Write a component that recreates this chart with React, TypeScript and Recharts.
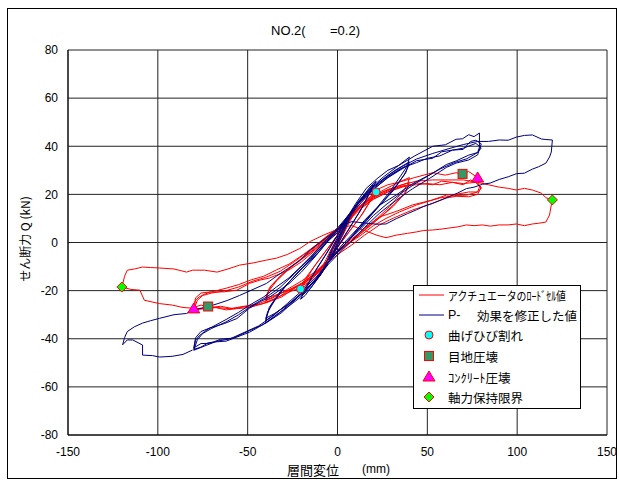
import React from 'react';
import { ComposedChart, Line, Scatter, XAxis, YAxis, CartesianGrid } from 'recharts';

const xTicks = [-150, -100, -50, 0, 50, 100, 150];
const yTicks = [-80, -60, -40, -20, 0, 20, 40, 60, 80];

// アクチュエータのロードセル値 (displacement mm, shear kN)
const loadCell: [number, number][] = [
  [0, 0], [2, 3], [5, 7], [3, 4], [0, 0], [-2, -3], [-5, -6], [-3, -3], [0, 1],
  [4, 6], [8, 11], [10, 13], [7, 9], [3, 3], [0, -1], [-4, -6], [-8, -10], [-10, -12], [-7, -8], [-3, -2], [0, 2],
  [4, 6], [9, 12], [14, 16], [18, 19], [21.5, 21], [19, 18], [14, 12], [8, 6], [3, 1], [0, -2],
  [-4, -6], [-9, -11], [-14, -15], [-18, -18], [-20.6, -19.3], [-18, -16], [-13, -10], [-7, -4], [-2, 1], [0, 3],
  [5, 8], [10, 13], [15, 17], [20, 20], [18, 17], [13, 11], [7, 5], [2, 0], [0, -2],
  [-5, -7], [-10, -12], [-15, -15], [-20, -18], [-18, -15], [-12, -9], [-6, -3], [-1, 2], [0, 3],
  [5, 9], [10, 14], [16, 19], [22, 22], [28, 24], [34, 25], [40, 27], [39, 24], [35, 20], [29, 15], [22, 10], [14, 5], [7, 1], [2, -2],
  [-4, -6], [-9, -11], [-15, -16], [-22, -19], [-28, -21], [-34, -23], [-40, -25], [-39, -21], [-34, -16], [-27, -11], [-19, -6], [-11, -1], [-4, 3], [0, 5],
  [6, 10], [12, 15], [18, 18], [25, 21], [32, 23], [40, 25], [38, 21], [33, 17], [26, 12], [18, 7], [10, 2], [3, -2],
  [-5, -7], [-11, -12], [-17, -16], [-24, -19], [-31, -21], [-40, -24], [-38, -19], [-32, -14], [-24, -9], [-15, -4], [-7, 1], [0, 4],
  [6, 9], [13, 14], [20, 18], [28, 21], [35, 23], [40, 24], [37, 20], [31, 15], [23, 10], [15, 5], [7, 0], [1, -3],
  [-6, -8], [-13, -13], [-20, -17], [-28, -20], [-35, -22], [-40, -23], [-37, -18], [-29, -12], [-20, -7], [-11, -2], [-3, 3], [2, 6],
  // +80 (1)
  [7, 10], [13, 15], [19, 19], [26, 22], [34, 25], [43, 27], [53, 29], [60, 28], [66, 29], [69.6, 28.5], [73, 29.5], [76, 28], [78, 26.8],
  [79, 23], [78, 21], [72, 19.7], [65, 19.5], [57, 18.5], [50, 17], [44, 15.6], [34.5, 12.7], [27, 10], [20, 7], [13, 3], [7, 0], [2, -3],
  // -80 (1)
  [-5, -7], [-11, -12], [-18, -16], [-25, -19.5], [-31, -22.6], [-39.5, -25], [-49, -27], [-56, -27.5], [-62, -28], [-68, -27], [-72, -26.6], [-76, -27.5], [-80, -27.6],
  [-79, -24], [-77, -22.6], [-74, -21.5], [-71, -20.6], [-63, -20.5], [-56, -19.8], [-49, -17], [-43, -15.6], [-38, -14.8], [-32, -13], [-27, -11.4], [-20, -8], [-12, -3], [-5, 2], [0, 5],
  // +80 (2)
  [6, 9], [12, 14], [20, 18], [28, 21], [36, 23], [44, 24.7], [53, 24], [58, 25.5], [64, 25], [70, 24], [74, 26], [77, 25], [80, 23],
  [78, 20], [73, 19], [66, 19.2], [60.6, 18.5], [52, 16], [41.7, 13.5], [35, 11.4], [29, 9.4], [23.4, 7.3], [15, 3], [8, -1], [2, -4],
  // -80 (2)
  [-5, -8], [-12, -13], [-20, -17], [-28, -20.5], [-35, -23.5], [-42, -25.5], [-50, -26.5], [-58, -27.5], [-65, -26.5], [-71, -27], [-76, -26], [-80, -27],
  [-79, -23], [-76, -21], [-70, -20.5], [-62, -19], [-55, -17.5], [-48, -15.5], [-41, -14], [-34, -11.4], [-27, -9], [-19, -5], [-10, 0], [-3, 4], [1, 6],
  // +80 (3)
  [6, 10], [13, 15], [20, 18.5], [28, 21.5], [36, 23.5], [44, 24], [50, 24.5], [57, 24], [64, 25], [70, 24.5], [77, 25], [80, 22.5],
  [78, 21], [73, 21], [66, 20], [60.6, 19.7], [52, 17.5], [41.7, 15.6], [33, 13], [23.4, 10.6], [15, 6], [8, 1], [2, -3],
  // -80 (3)
  [-5, -7], [-12, -12], [-20, -16], [-28, -19.5], [-36, -23], [-44, -25.5], [-52, -26.5], [-60, -27.5], [-67, -27], [-74, -27.5], [-80, -28],
  [-78, -24], [-75, -22], [-70, -21], [-62, -20], [-55, -18.5], [-47, -16], [-40, -14.5], [-32, -12], [-24, -8], [-15, -3], [-7, 2], [0, 6],
  // +120
  [6, 10], [13, 15], [20, 19], [28, 22], [36, 24], [44, 25.5], [53, 26], [62, 26], [70, 26], [78, 25], [84, 24], [90, 23], [95, 22.5], [99.6, 21.8], [104, 22.5], [108.5, 21.8], [113.5, 20.5], [116, 18.6], [119.6, 17.7],
  [119, 15.6], [118, 11.4], [116, 8.5], [112, 8], [108.5, 7.7], [104, 7], [99.6, 7.7], [95, 7.3], [90, 7.3], [85, 6.8], [80.7, 7.3], [76, 7], [71.8, 7.3], [67, 6.5], [62, 6], [57, 5.5], [53, 5.2], [48, 5], [44, 4.4], [39, 3.8], [33, 3.1], [27, 2], [22, 3], [15, 5], [8, 7], [3, 6.5], [0, 5.5],
  // -120
  [-8, 3], [-15, 0.5], [-21, -2.5], [-28, -5], [-34, -6.5], [-39.5, -7.3], [-47, -8.5], [-54.5, -9.4], [-61, -11], [-67, -12.3], [-74, -11.5], [-80.7, -11.5], [-84, -12.3], [-91, -11], [-99, -10.6], [-104, -10.4], [-108.5, -10.2], [-113, -11], [-117, -11.5], [-118.5, -14], [-120, -18.5],
  [-115, -19.5], [-110, -19.8], [-107.5, -24], [-99, -25.4], [-92, -26], [-86, -27], [-80.7, -27.3],
];

// P-δ効果を修正した値
const pDeltaCorrected: [number, number][] = [
  [0, 0], [2, 3.5], [5, 8], [3, 5], [0, 0], [-2, -3.5], [-5, -7], [-3, -3.5], [0, 1],
  [4, 7], [8, 12.5], [10, 15], [7, 10.5], [3, 3.5], [0, -1], [-4, -7], [-8, -11.5], [-10, -14], [-7, -9.5], [-3, -2.5], [0, 2],
  [4, 7], [9, 14], [14, 19], [18, 23], [21.5, 25.5], [19, 22], [14, 15], [8, 7.5], [3, 1.5], [0, -2],
  [-4, -7], [-9, -13], [-14, -18], [-18, -22], [-20.6, -23.6], [-18, -20], [-13, -12.5], [-7, -5.5], [-2, 0.5], [0, 3],
  [5, 9], [10, 15], [15, 20], [20, 24], [18, 21], [13, 13.5], [7, 6.5], [2, 0.5], [0, -2],
  [-5, -8], [-10, -14], [-15, -18], [-20, -22], [-18, -19], [-12, -11.5], [-6, -4.5], [-1, 2], [0, 3],
  [5, 10], [10, 16], [16, 22.5], [22, 26.5], [28, 30], [34, 32], [40, 35.5], [39, 32], [35, 27.5], [29, 21], [22, 14.5], [14, 8], [7, 2.5], [2, -1.5],
  [-4, -7], [-9, -13], [-15, -19], [-22, -23.5], [-28, -27], [-34, -30], [-40, -33.5], [-39, -29], [-34, -23], [-27, -16.5], [-19, -10], [-11, -3.5], [-4, 2], [0, 5],
  [6, 11], [12, 17.5], [18, 22], [25, 26], [32, 30], [40, 33.5], [38, 29], [33, 24], [26, 17.5], [18, 11], [10, 4], [3, -1.5],
  [-5, -8], [-11, -14.5], [-17, -19.5], [-24, -24], [-31, -27.5], [-40, -32.5], [-38, -27], [-32, -20.5], [-24, -14], [-15, -7], [-7, -0.5], [0, 4],
  [6, 10], [13, 16.5], [20, 22], [28, 27], [35, 30.5], [40, 32.5], [37, 28], [31, 21.5], [23, 15], [15, 8], [7, 1.5], [1, -3],
  [-6, -9], [-13, -16], [-20, -21], [-28, -26], [-35, -29.5], [-40, -31.5], [-37, -26], [-29, -18], [-20, -11], [-11, -4.5], [-3, 2.5], [2, 6.5],
  // +80 (1)
  [7, 11.5], [13, 17.7], [19, 23], [26, 27.5], [34, 32], [43, 36], [53, 40], [60, 40.6], [66, 42.9], [69.6, 43.1], [73, 44.8], [76, 44], [79, 45.5],
  [79, 39.6], [78, 37.4], [72, 34.8], [65, 33.2], [57, 30.5], [50, 27.5], [44, 24.8], [34.5, 20], [27, 15.7], [20, 11.2], [13, 5.7], [7, 1.5], [2, -2.6],
  // -80 (1)
  [-5, -8], [-11, -14.3], [-18, -19.8], [-25, -24.8], [-31, -29.1], [-39.5, -33.3], [-49, -37.3], [-56, -39.3], [-62, -41], [-68, -41.3], [-72, -41.7], [-76, -43.5], [-80, -44.4],
  [-79, -40.6], [-77, -38.8], [-74, -37], [-71, -35.5], [-63, -33.7], [-56, -31.6], [-49, -27.3], [-43, -24.6], [-38, -22.8], [-32, -19.7], [-27, -17.1], [-20, -12.2], [-12, -5.5], [-5, 1], [0, 5],
  // +80 (2)
  [6, 10.3], [12, 16.5], [20, 22.2], [28, 26.9], [36, 30.6], [44, 34], [53, 35], [58, 37.7], [64, 38.4], [70, 38.7], [74, 42], [77, 42.5], [80, 41],
  [78, 36.4], [73, 34.3], [66, 33], [60.6, 31.2], [52, 27], [41.7, 22.3], [35, 18.8], [29, 15.5], [23.4, 12.2], [15, 6.2], [8, 0.7], [2, -3.6],
  // -80 (2)
  [-5, -9], [-12, -15.5], [-20, -21.2], [-28, -26.4], [-35, -30.9], [-42, -34.3], [-50, -37], [-58, -39.7], [-65, -40.2], [-71, -41.9], [-76, -42], [-80, -43.8],
  [-79, -39.6], [-76, -37], [-70, -35.2], [-62, -32], [-55, -29], [-48, -25.6], [-41, -22.6], [-34, -18.5], [-27, -14.7], [-19, -9], [-10, -2.1], [-3, 3.4], [1, 6.2],
  // +80 (3)
  [6, 11.3], [13, 17.7], [20, 22.7], [28, 27.4], [36, 31], [44, 33.2], [50, 35], [57, 36], [64, 38.4], [70, 39.2], [77, 41.2], [80, 39.3],
  [78, 37.4], [73, 36.3], [66, 33.9], [60.6, 32.4], [52, 28.4], [41.7, 24.4], [33, 19.9], [23.4, 15.5], [15, 9.2], [8, 2.7], [2, -2.6],
  // -80 (3)
  [-5, -8], [-12, -14.5], [-20, -20.2], [-28, -25.4], [-36, -30.6], [-44, -34.7], [-52, -37.4], [-60, -40.1], [-67, -41], [-74, -43], [-80, -44.8],
  [-78, -40.4], [-75, -37.8], [-70, -35.7], [-62, -33], [-55, -30], [-47, -25.9], [-40, -22.9], [-32, -18.7], [-24, -13], [-15, -6.2], [-7, 0.5], [0, 6],
  // +120
  [6, 11.3], [13, 17.7], [20, 23.2], [28, 27.9], [36, 31.6], [44, 34.7], [53, 37], [62, 39], [70, 40.7], [78, 42], [84, 42], [90, 42.6], [95, 42.5], [99.6, 43.8], [104, 44.5], [108.5, 44.7], [113.5, 43], [116, 42.8], [119.6, 42.6],
  [119, 37.6], [118, 35.5], [116, 33], [112, 31.5], [108.5, 30.5], [104, 28.8], [99.6, 28.6], [95, 27.3], [90, 26.2], [85, 24.7], [80.7, 24.2], [76, 23], [71.8, 22.4], [67, 20.6], [62, 19], [57, 17.5], [53, 16.3], [48, 15], [44, 13.6], [39, 12], [33, 10], [27, 7.7], [22, 7.6], [15, 8.1], [8, 8.7], [3, 7.1], [0, 5.5],
  // -120
  [-8, 1], [-15, -3], [-21, -7.5], [-28, -11], [-34, -14], [-39.5, -17], [-47, -19.5], [-54.5, -22], [-61, -24], [-67, -25.5], [-74, -27], [-80.7, -28], [-84, -29.5], [-91, -30], [-99, -31.5], [-104, -32.5], [-108.5, -33.5], [-113, -35], [-117, -37], [-118.5, -39.5], [-119.6, -42.5],
  [-117, -40.5], [-114, -40.5], [-108.5, -42.6], [-108.5, -46.8], [-103, -47], [-99, -47.6], [-92, -47.3], [-86, -46.5], [-80.7, -44.7],
];

const crackPts: [number, number][] = [[21.5, 21], [-20.6, -19.3]];
const jointPts: [number, number][] = [[69.6, 28.5], [-72, -26.6]];
const concretePts: [number, number][] = [[78, 26.8], [-80, -27.6]];
const axialLimitPts: [number, number][] = [[119.6, 17.7], [-120, -18.5]];

const toRows = (a: [number, number][]) => a.map(([x, y]) => ({ x, y }));

const CircleMark = (p: any) => <circle cx={p.cx} cy={p.cy} r={4} fill="#00FFFF" stroke="#FF0000" strokeWidth={1} />;
const SquareMark = (p: any) => <rect x={p.cx - 4.5} y={p.cy - 4.5} width={9} height={9} fill="#339966" stroke="#FF0000" strokeWidth={1} />;
const TriMark = (p: any) => (
  <polygon points={`${p.cx},${p.cy - 6} ${p.cx - 6},${p.cy + 4} ${p.cx + 6},${p.cy + 4}`} fill="#FF00FF" stroke="#FF0000" strokeWidth={1} />
);
const DiamondMark = (p: any) => (
  <polygon points={`${p.cx},${p.cy - 5} ${p.cx + 5},${p.cy} ${p.cx},${p.cy + 5} ${p.cx - 5},${p.cy}`} fill="#00FF00" stroke="#FF0000" strokeWidth={1} />
);

const sans = 'Liberation Sans, Arial, sans-serif';
const jp = 'Noto Sans CJK JP, sans-serif';

export default function App() {
  return (
    <div style={{ position: 'absolute', left: 0, top: 0, width: 619, height: 482, background: '#fff' }}>
      <ComposedChart width={619} height={482} margin={{ top: 50, right: 12, bottom: 0, left: 0 }}>
        <CartesianGrid stroke="#222" strokeWidth={1} />
        <XAxis
          type="number"
          dataKey="x"
          domain={[-150, 150]}
          ticks={xTicks}
          height={47}
          tickLine={false}
          tickMargin={6}
          axisLine={{ stroke: '#000' }}
          tick={{ fontSize: 12, fontFamily: sans, fill: '#000' }}
          allowDataOverflow
        />
        <YAxis
          type="number"
          dataKey="y"
          domain={[-80, 80]}
          ticks={yTicks}
          width={68}
          tickLine={false}
          tickMargin={4}
          axisLine={{ stroke: '#000' }}
          tick={{ fontSize: 12, fontFamily: sans, fill: '#000' }}
          allowDataOverflow
        />
        <Line data={toRows(loadCell)} dataKey="y" type="linear" stroke="#FF0000" strokeWidth={1} dot={false} activeDot={false} isAnimationActive={false} />
        <Line data={toRows(pDeltaCorrected)} dataKey="y" type="linear" stroke="#000080" strokeWidth={1} dot={false} activeDot={false} isAnimationActive={false} />
        <Scatter data={toRows(crackPts)} dataKey="y" shape={CircleMark} isAnimationActive={false} />
        <Scatter data={toRows(jointPts)} dataKey="y" shape={SquareMark} isAnimationActive={false} />
        <Scatter data={toRows(concretePts)} dataKey="y" shape={TriMark} isAnimationActive={false} />
        <Scatter data={toRows(axialLimitPts)} dataKey="y" shape={DiamondMark} isAnimationActive={false} />
      </ComposedChart>

      <svg width={619} height={482} style={{ position: 'absolute', left: 0, top: 0, pointerEvents: 'none' }}>
        <rect x={7.5} y={8.5} width={609} height={470} fill="none" stroke="#000" />
        <text x={271} y={30} fontFamily={sans} fontSize={13} dominantBaseline="central">NO.2(</text>
        <text x={330} y={30} fontFamily={sans} fontSize={13} dominantBaseline="central">=0.2)</text>
        <text x={287} y={469} fontFamily={jp} fontSize={13} dominantBaseline="central">層間変位</text>
        <text x={362} y={469} fontFamily={sans} fontSize={12} dominantBaseline="central">(mm)</text>
        <text transform="translate(24,239) rotate(-90)" textAnchor="middle" fontFamily={jp} fontSize={12} dominantBaseline="central">
          せん断力 Q (kN)
        </text>

        <g transform="translate(413,285)" fontFamily={jp} fontSize={12.5}>
          <rect x={0.5} y={0.5} width={167} height={123} fill="#fff" stroke="#000" />
          <line x1={6} x2={31} y1={10} y2={10} stroke="#FF0000" />
          <text x={35} y={10} dominantBaseline="central" textLength={118} lengthAdjust="spacingAndGlyphs">アクチュエータのﾛｰﾄﾞｾﾙ値</text>
          <line x1={6} x2={31} y1={30} y2={30} stroke="#000080" />
          <text x={35} y={30} dominantBaseline="central" fontFamily={sans}>P-</text>
          <text x={64} y={30} dominantBaseline="central">効果を修正した値</text>
          <CircleMark cx={16} cy={50} />
          <text x={35} y={50} dominantBaseline="central">曲げひび割れ</text>
          <SquareMark cx={16} cy={71} />
          <text x={35} y={71} dominantBaseline="central">目地圧壊</text>
          <TriMark cx={16} cy={92} />
          <text x={35} y={92} dominantBaseline="central">ｺﾝｸﾘｰﾄ圧壊</text>
          <DiamondMark cx={16} cy={112} />
          <text x={35} y={112} dominantBaseline="central">軸力保持限界</text>
        </g>
      </svg>
    </div>
  );
}
